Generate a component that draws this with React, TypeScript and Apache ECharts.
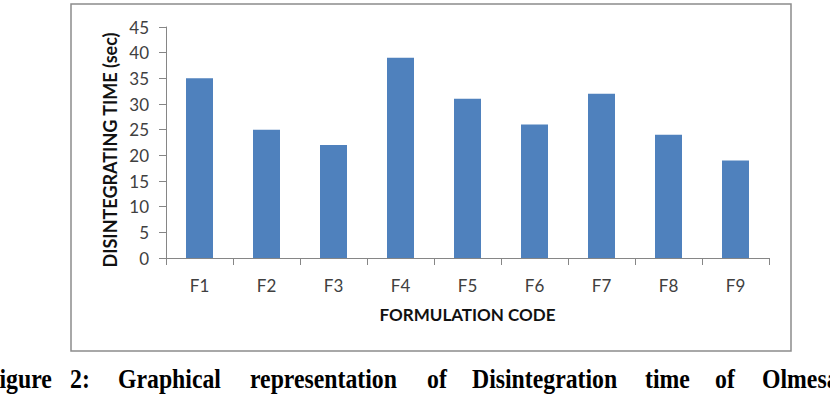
import React, { useEffect, useRef } from "react";
import * as echarts from "echarts";

const categories = ["F1", "F2", "F3", "F4", "F5", "F6", "F7", "F8", "F9"];
const disintegrationTime = [35, 25, 22, 39, 31, 26, 32, 24, 19];
const yTicks = { min: 0, max: 45, interval: 5 };
const yTitle = "DISINTEGRATING TIME (sec)";
const xTitle = "FORMULATION CODE";
const captionWords = [
  "Figure", "2:", "Graphical", "representation", "of", "Disintegration", "time", "of", "Olmesartan",
];
const captionX = [-15, 70, 118, 250, 427, 472, 645, 715, 762];

export default function App() {
  const ref = useRef<HTMLDivElement>(null);
  useEffect(() => {
    document.body.style.margin = "0";
    const chart = echarts.init(ref.current!, null, { renderer: "svg" });
    const labelFont = "Lato, 'Open Sans', sans-serif";
    chart.setOption({
      animation: false,
      backgroundColor: "#ffffff",
      grid: { left: 166, right: 61, top: 27, bottom: 152, containLabel: false },
      xAxis: {
        type: "category",
        data: categories,
        axisLine: { lineStyle: { color: "#868686", width: 1 } },
        axisTick: { show: true, length: 7, lineStyle: { color: "#868686" } },
        axisLabel: { margin: 19, color: "#404040", fontSize: 17, fontFamily: labelFont },
        name: xTitle,
        nameLocation: "middle",
        nameGap: 48,
        nameTextStyle: { color: "#111", fontSize: 17, fontWeight: "bold", fontFamily: labelFont },
      },
      yAxis: {
        type: "value",
        min: yTicks.min,
        max: yTicks.max,
        interval: yTicks.interval,
        splitLine: { show: false },
        axisLine: { show: true, lineStyle: { color: "#868686", width: 1 } },
        axisTick: { show: true, length: 7, lineStyle: { color: "#868686" } },
        axisLabel: { margin: 17, color: "#404040", fontSize: 17, fontFamily: labelFont },
      },
      series: [
        {
          type: "bar",
          data: disintegrationTime,
          barWidth: 27,
          itemStyle: { color: "#4f81bd" },
        },
      ],
      graphic: [
        {
          type: "rect",
          shape: { x: 71, y: 4, width: 720, height: 347 },
          style: { fill: "none", stroke: "#8c8c8c", lineWidth: 1.5 },
          silent: true,
        },
        {
          type: "text",
          x: 110,
          y: 150,
          rotation: Math.PI / 2,
          style: {
            text: yTitle,
            fill: "#111",
            font: `bold 18px ${labelFont}`,
            align: "center",
            verticalAlign: "middle",
          },
        },
        ...captionWords.map((w, i) => ({
          type: "text",
          x: captionX[i],
          y: 379,
          scaleX: 0.88,
          style: {
            text: w,
            fill: "#000",
            font: "bold 27px 'Liberation Serif', 'Times New Roman', serif",
            align: "left",
            verticalAlign: "middle",
          },
        })),
      ],
    });
    return () => chart.dispose();
  }, []);
  return <div ref={ref} style={{ width: 830, height: 410 }} />;
}
